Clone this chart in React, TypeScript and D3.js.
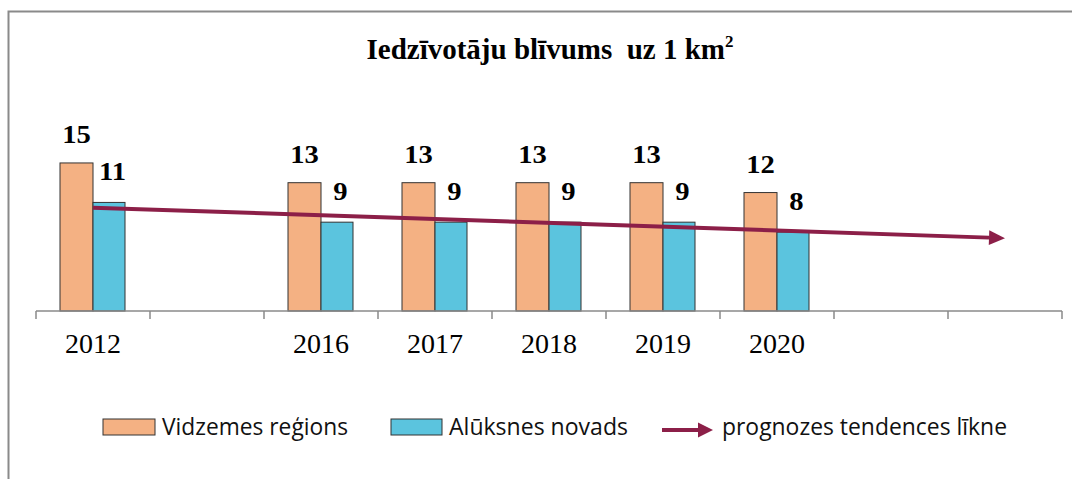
import React from "react";
import * as d3 from "d3";

const categoryKeys = ["2012", "gap1", "2016", "2017", "2018", "2019", "2020", "gap2", "gap3"];
const tickLabels = ["2012", "", "2016", "2017", "2018", "2019", "2020", "", ""];
const vidzemes: (number | null)[] = [15, null, 13, 13, 13, 13, 12, null, null];
const aluksnes: (number | null)[] = [11, null, 9, 9, 9, 9, 8, null, null];
const trendKeys = ["2012", "gap3"];
const trendValues = [10.47, 7.38];

const seriesNames = ["Vidzemes reģions", "Alūksnes novads", "prognozes tendences līkne"];
const title = "Iedzīvotāju blīvums  uz 1 km";

const W = 1072;
const H = 479;
const ORANGE = "#F4B183";
const BLUE = "#5BC4DE";
const TREND = "#8C1F48";
const SERIF = "'Liberation Serif', 'Times New Roman', serif";
const SANS = "'Open Sans', 'Noto Sans', sans-serif";

export default function App() {
  const x = d3.scaleBand<string>().domain(categoryKeys).range([36, 1062]).padding(0);
  const y = d3.scaleLinear().domain([0, 16]).range([311, 311 - 16 * 9.87]);
  const barW = 33;
  const cx = (k: string) => (x(k) as number) + x.bandwidth() / 2;

  const tx0 = cx(trendKeys[0]);
  const ty0 = y(trendValues[0]);
  const tx1 = cx(trendKeys[1]);
  const ty1 = y(trendValues[1]);
  const ang = Math.atan2(ty1 - ty0, tx1 - tx0);
  const headLen = 16;
  const headHalf = 7.5;
  const bx = tx1 - headLen * Math.cos(ang);
  const by = ty1 - headLen * Math.sin(ang);
  const px = -Math.sin(ang);
  const py = Math.cos(ang);
  const head = [
    [tx1, ty1],
    [bx + px * headHalf, by + py * headHalf],
    [bx - px * headHalf, by - py * headHalf],
  ];

  const ticks = d3.range(categoryKeys.length + 1).map((i) => 36 + i * x.bandwidth());

  const label = (lx: number, ly: number, v: number, key: string) => (
    <text
      key={key}
      x={0}
      y={0}
      transform={`translate(${lx},${ly}) scale(1.1,1)`}
      textAnchor="middle"
      fontFamily={SERIF}
      fontWeight="bold"
      fontSize={26}
      fill="#000"
    >
      {v}
    </text>
  );

  return (
    <svg
      width={W}
      height={H}
      style={{ position: "absolute", left: 0, top: 0, background: "#fff" }}
    >
      <rect x={8.5} y={11.5} width={1100} height={500} fill="#fff" stroke="#8a8a8a" strokeWidth={2} />

      <text
        x={550}
        y={59}
        textAnchor="middle"
        fontFamily={SERIF}
        fontWeight="bold"
        fontSize={29}
        fill="#000"
        style={{ whiteSpace: "pre" }}
      >
        {title}
        <tspan fontSize={17} dy={-12}>2</tspan>
      </text>

      {categoryKeys.map((k, i) => {
        const c = cx(k);
        const out: React.ReactNode[] = [];
        const v1 = vidzemes[i];
        const v2 = aluksnes[i];
        if (v1 != null) {
          out.push(
            <rect key={`o${k}`} x={c - barW} y={y(v1)} width={barW} height={y(0) - y(v1)} fill={ORANGE} stroke="#333" strokeWidth={1} />
          );
        }
        if (v2 != null) {
          out.push(
            <rect key={`b${k}`} x={c} y={y(v2)} width={barW - 1} height={y(0) - y(v2)} fill={BLUE} stroke="#333" strokeWidth={1} />
          );
        }
        return <g key={k}>{out}</g>;
      })}

      <line x1={36} x2={1062} y1={311} y2={311} stroke="#8a8a8a" strokeWidth={1.5} />
      {ticks.map((t, i) => (
        <line key={i} x1={t} x2={t} y1={311} y2={319} stroke="#8a8a8a" strokeWidth={1.5} />
      ))}
      {categoryKeys.map((k, i) =>
        tickLabels[i] ? (
          <text key={`t${k}`} x={cx(k)} y={353} textAnchor="middle" fontFamily={SERIF} fontSize={28} fill="#000">
            {tickLabels[i]}
          </text>
        ) : null
      )}

      <line x1={tx0} y1={ty0} x2={bx} y2={by} stroke={TREND} strokeWidth={4} />
      <polygon points={head.map((p) => p.join(",")).join(" ")} fill={TREND} />

      {categoryKeys.map((k, i) => {
        const c = cx(k);
        const v1 = vidzemes[i];
        const v2 = aluksnes[i];
        return (
          <g key={`l${k}`}>
            {v1 != null ? label(c - barW / 2, y(v1) - 20, v1, `lo${k}`) : null}
            {v2 != null ? label(c + barW / 2 + 3, y(v2) - 22, v2, `lb${k}`) : null}
          </g>
        );
      })}

      <rect x={103} y={419} width={52} height={16} fill={ORANGE} stroke="#333" strokeWidth={1} />
      <text x={162} y={435} fontFamily={SANS} fontSize={23} fill="#111" textLength={186} lengthAdjust="spacingAndGlyphs">
        {seriesNames[0]}
      </text>
      <rect x={391} y={419} width={51} height={16} fill={BLUE} stroke="#333" strokeWidth={1} />
      <text x={449} y={435} fontFamily={SANS} fontSize={23} fill="#111" textLength={179} lengthAdjust="spacingAndGlyphs">
        {seriesNames[1]}
      </text>
      <line x1={662} y1={430} x2={699} y2={430} stroke={TREND} strokeWidth={4} />
      <polygon points={`713,430 698,422.5 698,437.5`} fill={TREND} />
      <text x={722} y={435} fontFamily={SANS} fontSize={23} fill="#111" textLength={285} lengthAdjust="spacingAndGlyphs">
        {seriesNames[2]}
      </text>
    </svg>
  );
}
